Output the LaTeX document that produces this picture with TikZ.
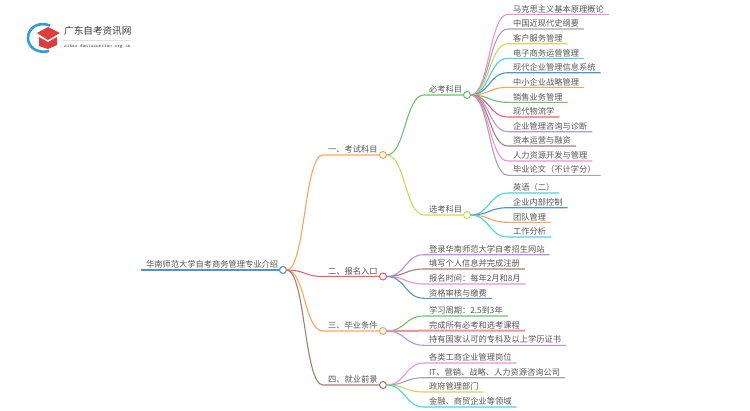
\documentclass[tikz,border=0pt]{standalone}
\usepackage{fontspec}
\setmainfont{Noto Sans CJK SC}
\usepackage{xcolor}
\usepackage{tikz}
\definecolor{lineblue}{HTML}{4F94CD}
\definecolor{lineorange}{HTML}{FFA35C}
\definecolor{linered}{HTML}{E9636A}
\definecolor{linebrown}{HTML}{A97C70}
\definecolor{linegreen}{HTML}{6CC26C}
\definecolor{lineolive}{HTML}{D4D45C}
\definecolor{linepink}{HTML}{F08FD6}
\definecolor{linegray}{HTML}{A6A6A6}
\definecolor{linecyan}{HTML}{45D3E6}
\definecolor{linepurple}{HTML}{B594E0}
\definecolor{linesalmon}{HTML}{F09499}
\definecolor{textgray}{HTML}{555555}
\definecolor{logored}{HTML}{E03C3C}
\definecolor{logoblue}{HTML}{2F9BE0}
\tikzset{
  topic/.style={anchor=south west, inner xsep=5pt, inner ysep=1.6pt, outer sep=0pt, text=textgray, font=\fontsize{8.25pt}{9pt}\selectfont},
  dot/.style={circle, draw, fill=white, line width=1.1pt, minimum size=7pt, inner sep=0pt, outer sep=0pt},
  twig/.style={out=0, in=180, distance=19pt},
  branch/.style={line width=1.1pt, line join=round}
}

\begin{document}
\begin{tikzpicture}[x=1pt, y=-1pt]
\useasboundingbox (0,0) rectangle (750,410);

% logo
\draw[logoblue, line width=2.6pt] (50,25.5) .. controls (38,21) and (28,28) .. (28,38) .. controls (28,47) and (37,54) .. (49,51);
\fill[logored] (37,33) -- (48,27) -- (60,33) -- (48,40) -- cycle;
\fill[logored] (39,37) -- (48,42) -- (57,37) -- (57,45) -- (48,49) -- (39,46) -- cycle;
\node[anchor=west, inner sep=0pt, text=black!80, font=\fontsize{9.6pt}{10pt}\selectfont] (logotitle) at (64,31) {广东自考资讯网};
\node[anchor=west, inner sep=0pt, text=black!70, font=\fontsize{5pt}{6pt}\selectfont\ttfamily] (logourl) at (64,46.5) {zikao.daniuxuexiao.org.cn};
\draw[black!12, line width=0.5pt] (63,40) -- (131,40);

% main topics
\node[topic] (root) at (141,270) {华南师范大学自考商务管理专业介绍};
\node[topic] (exam) at (323,155) {一、考试科目};
\node[topic] (entry) at (323,276.5) {二、报名入口};
\node[topic] (grad) at (323,331) {三、毕业条件};
\node[topic] (job) at (323,385) {四、就业前景};
\node[topic] (must) at (424,95) {必考科目};
\node[topic] (elect) at (424,215) {选考科目};

\node[dot, draw=lineblue] (rootdot) at (283,270) {};
\node[dot, draw=lineorange] (examdot) at (383,155) {};
\node[dot, draw=linered] (entrydot) at (383,276.5) {};
\node[dot, draw=lineorange] (graddot) at (383,331) {};
\node[dot, draw=linebrown] (jobdot) at (383,385) {};
\node[dot, draw=linegreen] (mustdot) at (467,95) {};
\node[dot, draw=lineolive] (electdot) at (467,215) {};

\draw[branch, lineblue] (root.south west) -- (rootdot.west);
\draw[branch, lineorange] (rootdot.east) to[twig] (exam.south west) -- (examdot.west);
\draw[branch, linered] (rootdot.east) to[twig] (entry.south west) -- (entrydot.west);
\draw[branch, lineorange] (rootdot.east) to[twig] (grad.south west) -- (graddot.west);
\draw[branch, linebrown] (rootdot.east) to[twig] (job.south west) -- (jobdot.west);
\draw[branch, linegreen] (examdot.east) to[twig] (must.south west) -- (mustdot.west);
\draw[branch, lineolive] (examdot.east) to[twig] (elect.south west) -- (electdot.west);

% required subjects
\node[topic] (m1) at (508,14.3) {马克思主义基本原理概论};
\node[topic] (m2) at (508,29) {中国近现代史纲要};
\node[topic] (m3) at (508,43.7) {客户服务管理};
\node[topic] (m4) at (508,58.3) {电子商务运营管理};
\node[topic] (m5) at (508,72.7) {现代企业管理信息系统};
\node[topic] (m6) at (508,87.3) {中小企业战略管理};
\node[topic] (m7) at (508,102.3) {销售业务管理};
\node[topic] (m8) at (508,117) {现代物流学};
\node[topic] (m9) at (508,131.7) {企业管理咨询与诊断};
\node[topic] (m10) at (508,146) {资本运营与融资};
\node[topic] (m11) at (508,161) {人力资源开发与管理};
\node[topic] (m12) at (508,175.3) {毕业论文（不计学分）};

\draw[branch, linepink] (mustdot.east) to[twig] (m1.south west) -- (m1.south east);
\draw[branch, linegray] (mustdot.east) to[twig] (m2.south west) -- (m2.south east);
\draw[branch, lineolive] (mustdot.east) to[twig] (m3.south west) -- (m3.south east);
\draw[branch, linecyan] (mustdot.east) to[twig] (m4.south west) -- (m4.south east);
\draw[branch, lineblue] (mustdot.east) to[twig] (m5.south west) -- (m5.south east);
\draw[branch, lineorange] (mustdot.east) to[twig] (m6.south west) -- (m6.south east);
\draw[branch, linegreen] (mustdot.east) to[twig] (m7.south west) -- (m7.south east);
\draw[branch, linered] (mustdot.east) to[twig] (m8.south west) -- (m8.south east);
\draw[branch, linepurple] (mustdot.east) to[twig] (m9.south west) -- (m9.south east);
\draw[branch, linebrown] (mustdot.east) to[twig] (m10.south west) -- (m10.south east);
\draw[branch, linepink] (mustdot.east) to[twig] (m11.south west) -- (m11.south east);
\draw[branch, linegray] (mustdot.east) to[twig] (m12.south west) -- (m12.south east);

% elective subjects
\node[topic] (e1) at (508,193) {英语（二）};
\node[topic] (e2) at (508,207.7) {企业内部控制};
\node[topic] (e3) at (508,222.3) {团队管理};
\node[topic] (e4) at (508,237) {工作分析};

\draw[branch, linecyan] (electdot.east) to[twig] (e1.south west) -- (e1.south east);
\draw[branch, lineblue] (electdot.east) to[twig] (e2.south west) -- (e2.south east);
\draw[branch, lineorange] (electdot.east) to[twig] (e3.south west) -- (e3.south east);
\draw[branch, linecyan] (electdot.east) to[twig] (e4.south west) -- (e4.south east);

% entry
\node[topic] (r1) at (424,254.7) {登录华南师范大学自考招生网站};
\node[topic] (r2) at (424,269) {填写个人信息并完成注册};
\node[topic] (r3) at (424,284) {报名时间：每年2月和8月};
\node[topic] (r4) at (424,298.3) {资格审核与缴费};

\draw[branch, linepurple] (entrydot.east) to[twig] (r1.south west) -- (r1.south east);
\draw[branch, linebrown] (entrydot.east) to[twig] (r2.south west) -- (r2.south east);
\draw[branch, linepink] (entrydot.east) to[twig] (r3.south west) -- (r3.south east);
\draw[branch, lineblue] (entrydot.east) to[twig] (r4.south west) -- (r4.south east);

% graduation
\node[topic] (g1) at (424,316) {学习周期：2.5到3年};
\node[topic] (g2) at (424,330.7) {完成所有必考和选考课程};
\node[topic] (g3) at (424,345.3) {持有国家认可的专科及以上学历证书};

\draw[branch, linegreen] (graddot.east) to[twig] (g1.south west) -- (g1.south east);
\draw[branch, linesalmon, line width=2pt] (graddot.east) to[twig] (g2.south west) -- (g2.south east);
\draw[branch, linepurple] (graddot.east) to[twig] (g3.south west) -- (g3.south east);

% jobs
\node[topic] (j1) at (424,363) {各类工商企业管理岗位};
\node[topic] (j2) at (424,377.7) {IT、营销、战略、人力资源咨询公司};
\node[topic] (j3) at (424,392) {政府管理部门};
\node[topic] (j4) at (424,407) {金融、商贸企业等领域};

\draw[branch, linepink] (jobdot.east) to[twig] (j1.south west) -- (j1.south east);
\draw[branch, linegray] (jobdot.east) to[twig] (j2.south west) -- (j2.south east);
\draw[branch, lineolive] (jobdot.east) to[twig] (j3.south west) -- (j3.south east);
\draw[branch, linecyan] (jobdot.east) to[twig] (j4.south west) -- (j4.south east);
\end{tikzpicture}
\end{document}
